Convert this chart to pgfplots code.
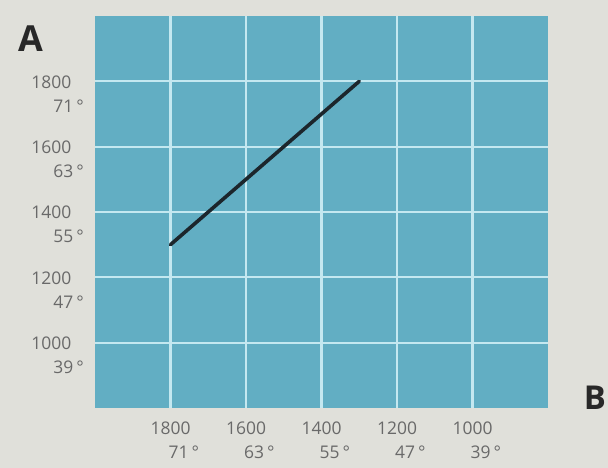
\documentclass[border=0pt]{standalone}
\usepackage{pgfplots}
\pgfplotsset{compat=1.18}
\usepackage{fontspec}
\setmainfont{Open Sans}

\definecolor{bgpaper}{RGB}{224,224,218}
\definecolor{panel}{RGB}{98,174,195}
\definecolor{gridc}{RGB}{196,232,240}
\definecolor{ticktext}{RGB}{105,105,105}
\definecolor{bigtext}{RGB}{40,40,40}
\definecolor{curve}{RGB}{28,38,44}

% two-line tick label: value, then indented degrees
\newcommand\xtl[2]{\begin{tabular}[t]{@{}l@{}}#1\\\hspace*{18bp}#2\end{tabular}}
\newcommand\ytl[2]{\begin{tabular}[t]{@{}l@{}}#1\\\hspace*{22bp}#2\end{tabular}}

\begin{document}
\begin{tikzpicture}
\fill[bgpaper] (0,0) rectangle (608bp,468bp);

\begin{axis}[
    at={(95bp,60bp)},
    anchor=south west,
    scale only axis,
    width=453bp,
    height=392bp,
    xmin=800, xmax=2000,
    ymin=800, ymax=2000,
    x dir=reverse,
    xtick={1800,1600,1400,1200,1000},
    ytick={1000,1200,1400,1600,1800},
    xticklabels={\xtl{1800}{71\,°},\xtl{1600}{63\,°},\xtl{1400}{55\,°},\xtl{1200}{47\,°},\xtl{1000}{39\,°}},
    yticklabels={\ytl{1000}{39\,°},\ytl{1200}{47\,°},\ytl{1400}{55\,°},\ytl{1600}{63\,°},\ytl{1800}{71\,°}},
    xticklabel style={font=\fontsize{17.5}{24}\selectfont, text=ticktext,
        anchor=base west, inner sep=0pt, xshift=-20bp, yshift=-27bp},
    yticklabel style={font=\fontsize{17.5}{24}\selectfont, text=ticktext,
        anchor=base east, inner sep=0pt, xshift=-11bp, yshift=-7bp},
    grid=major,
    grid style={gridc, line width=2.2pt},
    axis background/.style={fill=panel},
    axis line style={draw=none},
    major tick length=0pt,
    tick style={draw=none},
    clip=false,
]
\addplot[curve, line width=3.6pt, line cap=round] coordinates {(1800,1300) (1300,1800)};
\end{axis}

\node[font=\fontsize{36}{38}\selectfont\bfseries, text=bigtext] at (31bp,429bp) {A};
\node[font=\fontsize{33}{35}\selectfont\bfseries, text=bigtext] at (595bp,70bp) {B};

\pgfresetboundingbox
\useasboundingbox (0,0) rectangle (608bp,468bp);
\end{tikzpicture}
\end{document}
